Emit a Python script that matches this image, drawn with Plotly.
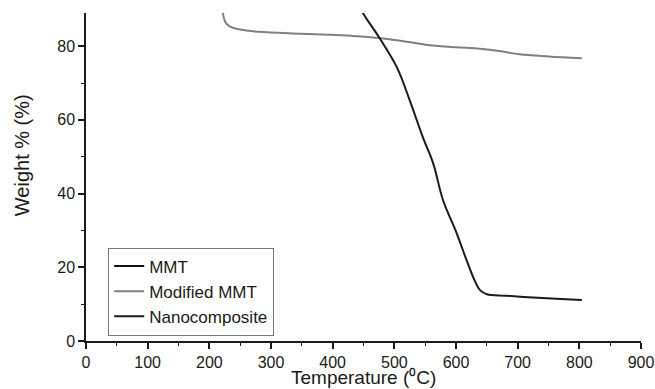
import plotly.graph_objects as go

# MMT: its curve lies above the visible range (legend entry only)
mmt_temp = [None]
mmt_weight = [None]

modified_temp = [219, 222, 226, 233, 250, 280, 347, 395, 430, 476, 520, 562, 600, 639, 670, 703, 750, 804]
modified_weight = [95, 89, 86.5, 85.4, 84.5, 83.9, 83.4, 83.1, 82.8, 82.2, 81.2, 80.2, 79.7, 79.3, 78.7, 77.8, 77.2, 76.7]

nano_temp = [430, 449, 476, 504, 525, 546, 563, 579, 601, 617, 630, 639, 650, 680, 725, 770, 804]
nano_weight = [95, 89, 82.2, 74.3, 65.3, 55.4, 48.2, 38.2, 29.3, 22, 16.5, 13.8, 12.7, 12.3, 11.8, 11.4, 11.1]

FONT = "Liberation Sans, Arial, sans-serif"
INK = "#1a1a1a"

fig = go.Figure()
fig.add_trace(go.Scatter(x=mmt_temp, y=mmt_weight, mode="lines", name="MMT",
                         line=dict(color="#111111", width=2)))
fig.add_trace(go.Scatter(x=modified_temp, y=modified_weight, mode="lines", name="Modified MMT",
                         line=dict(color="#808080", width=2, shape="spline")))
fig.add_trace(go.Scatter(x=nano_temp, y=nano_weight, mode="lines", name="Nanocomposite",
                         line=dict(color=INK, width=2, shape="spline")))

fig.update_layout(
    width=655, height=389,
    margin=dict(l=86, r=14, t=13, b=48, autoexpand=False),
    paper_bgcolor="white", plot_bgcolor="white",
    font=dict(family=FONT, size=16, color=INK),
    showlegend=True,
    legend=dict(x=0.04, y=0.285, xanchor="left", yanchor="top",
                bordercolor="#777777", borderwidth=1, bgcolor="white",
                font=dict(family=FONT, size=17, color=INK),
                tracegroupgap=0),
    xaxis=dict(range=[0, 900], dtick=100, tick0=0, showgrid=False, zeroline=False,
               automargin=False,
               showline=True, linecolor=INK, linewidth=1.5,
               ticks="outside", ticklen=6, tickwidth=1.5, tickcolor=INK,
               tickfont=dict(family=FONT, size=16, color=INK),
               minor=dict(ticks="outside", ticklen=3, dtick=50, tickcolor=INK, tickwidth=1.2)),
    yaxis=dict(range=[0, 89], dtick=20, tick0=0, showgrid=False, zeroline=False,
               automargin=False,
               showline=True, linecolor=INK, linewidth=1.5,
               ticks="outside", ticklen=6, tickwidth=1.5, tickcolor=INK,
               tickfont=dict(family=FONT, size=16, color=INK),
               minor=dict(ticks="outside", ticklen=3, dtick=10, tickcolor=INK, tickwidth=1.2)),
    annotations=[
        dict(text="Temperature (⁰C)", xref="paper", yref="paper",
             x=0.5, y=-0.146, xanchor="center", yanchor="bottom", showarrow=False,
             borderpad=0,
             font=dict(family=FONT, size=19, color=INK)),
        dict(text="Weight % (%)", xref="paper", yref="paper",
             x=-0.115, y=0.567, xanchor="center", yanchor="middle", showarrow=False,
             textangle=-90, font=dict(family=FONT, size=20, color=INK)),
    ],
)

fig.write_html(
    "out.html",
    config={"displayModeBar": False},
    post_script="document.body.style.margin='0';document.body.style.overflow='hidden';",
)
